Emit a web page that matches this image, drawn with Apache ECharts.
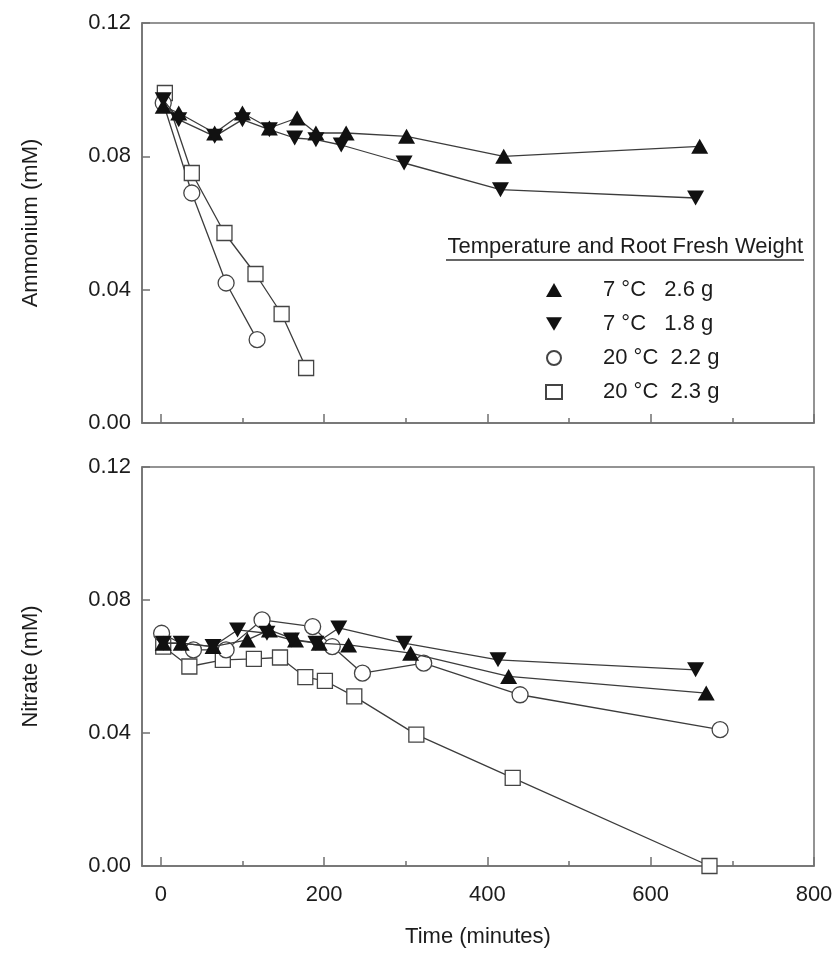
<!DOCTYPE html>
<html>
<head>
<meta charset="utf-8">
<script src="https://cdn.jsdelivr.net/npm/echarts@6/dist/echarts.min.js"></script>
<style>
  html, body { margin: 0; padding: 0; background: #fff; }
  #chart { width: 837px; height: 955px; }
</style>
</head>
<body>
<div id="chart"></div>
<script>
// Time axis (minutes)
const timeTicks = [0, 200, 400, 600, 800];
const timeMinorTicks = [100, 300, 500, 700];

// Series names
const seriesNames = ['7 °C   2.6 g', '7 °C   1.8 g', '20 °C  2.2 g', '20 °C  2.3 g'];

// Ammonium depletion (mM)
const ammonium7a_t = [3, 22, 66, 100, 133, 167, 190, 227, 301, 420, 660];
const ammonium7a_v = [0.095, 0.093, 0.087, 0.093, 0.0885, 0.0915, 0.087, 0.087, 0.086, 0.080, 0.083];
const ammonium7b_t = [3, 22, 66, 100, 133, 164, 190, 221, 298, 416, 655];
const ammonium7b_v = [0.097, 0.091, 0.086, 0.091, 0.088, 0.0855, 0.085, 0.0834, 0.078, 0.070, 0.0675];
const ammonium20a_t = [3, 38, 80, 118];
const ammonium20a_v = [0.096, 0.069, 0.042, 0.025];
const ammonium20b_t = [5, 38, 78, 116, 148, 178];
const ammonium20b_v = [0.099, 0.075, 0.057, 0.0447, 0.0327, 0.0165];

// Nitrate depletion (mM)
const nitrate7a_t = [3, 25, 64, 106, 133, 165, 194, 230, 306, 426, 668];
const nitrate7a_v = [0.067, 0.067, 0.066, 0.068, 0.071, 0.068, 0.067, 0.0665, 0.064, 0.057, 0.052];
const nitrate7b_t = [3, 25, 64, 94, 130, 160, 190, 218, 298, 413, 655];
const nitrate7b_v = [0.067, 0.067, 0.066, 0.071, 0.070, 0.068, 0.067, 0.0716, 0.067, 0.062, 0.059];
const nitrate20a_t = [1, 40, 80, 124, 186, 210, 247, 322, 440, 685];
const nitrate20a_v = [0.070, 0.065, 0.065, 0.074, 0.072, 0.066, 0.058, 0.061, 0.0515, 0.041];
const nitrate20b_t = [3, 35, 76, 114, 146, 177, 201, 237, 313, 431, 672];
const nitrate20b_v = [0.066, 0.060, 0.062, 0.0623, 0.0627, 0.0568, 0.0557, 0.051, 0.0395, 0.0265, 0.0];

const FONT = '"Liberation Sans", Arial, sans-serif';
const FS = 22;
const INK = '#1c1c1c';
const FRAME = '#707070';
const LINE = '#3c3c3c';

const X_MIN = -23, X_MAX = 800;
const GRID_L = 142, GRID_R = 23;
const grids = [
  { left: GRID_L, right: GRID_R, top: 23, height: 400 },
  { left: GRID_L, right: GRID_R, top: 467, height: 399 }
];

const downTriangle = 'path://M0,0 L20,0 L10,17 Z';

const markerStyles = [
  { symbol: 'triangle', symbolSize: [17, 15], itemStyle: { color: '#111', borderColor: '#111', borderWidth: 0 } },
  { symbol: downTriangle, symbolSize: [17, 15], itemStyle: { color: '#111', borderColor: '#111', borderWidth: 0 } },
  { symbol: 'circle', symbolSize: 16, itemStyle: { color: '#fff', borderColor: '#444', borderWidth: 1.3 } },
  { symbol: 'rect', symbolSize: 15, itemStyle: { color: '#fff', borderColor: '#444', borderWidth: 1.3 } }
];

function pair(ts, vs) { return ts.map((t, i) => [t, vs[i]]); }

function makeSeries(idx, gridIdx, ts, vs) {
  const m = markerStyles[idx];
  return {
    name: seriesNames[idx],
    type: 'line',
    xAxisIndex: gridIdx,
    yAxisIndex: gridIdx,
    data: pair(ts, vs),
    symbol: m.symbol,
    symbolSize: m.symbolSize,
    showAllSymbol: true,
    clip: false,
    lineStyle: { color: LINE, width: 1.3 },
    itemStyle: m.itemStyle,
    emphasis: { disabled: true },
    z: idx < 2 ? 3 : 2
  };
}

function xAxisMain(gridIdx, withLabels) {
  return {
    type: 'value', gridIndex: gridIdx, min: X_MIN, max: X_MAX,
    position: 'bottom',
    splitLine: { show: false },
    axisLine: { show: true, onZero: false, lineStyle: { color: FRAME, width: 1.5 } },
    axisTick: { show: true, inside: true, length: 9, customValues: timeTicks, lineStyle: { color: FRAME, width: 1.5 } },
    axisLabel: { show: withLabels, customValues: timeTicks, color: INK, fontSize: FS, fontFamily: FONT, margin: 18 },
    name: withLabels ? 'Time (minutes)' : '',
    nameLocation: 'middle', nameGap: 60,
    nameTextStyle: { color: INK, fontSize: FS, fontFamily: FONT }
  };
}

function xAxisMinor(gridIdx) {
  return {
    type: 'value', gridIndex: gridIdx, min: X_MIN, max: X_MAX,
    position: 'bottom',
    splitLine: { show: false },
    axisLine: { show: false },
    axisTick: { show: true, inside: true, length: 5, customValues: timeMinorTicks, lineStyle: { color: FRAME, width: 1.5 } },
    axisLabel: { show: false }
  };
}

function yAxisMain(gridIdx, title) {
  return {
    type: 'value', gridIndex: gridIdx, min: 0, max: 0.12, interval: 0.04,
    splitLine: { show: false },
    axisLine: { show: true, onZero: false, lineStyle: { color: FRAME, width: 1.5 } },
    axisTick: { show: true, inside: true, length: 8, lineStyle: { color: FRAME, width: 1.5 } },
    axisLabel: { color: INK, fontSize: FS, fontFamily: FONT, margin: 11, formatter: v => v.toFixed(2) },
    name: title, nameLocation: 'middle', nameGap: 100,
    nameTextStyle: { color: INK, fontSize: FS, fontFamily: FONT }
  };
}

function yAxisHidden(gridIdx) {
  return { type: 'value', gridIndex: gridIdx, min: 0, max: 0.12, show: false };
}

const legendIcons = ['triangle', downTriangle, 'circle', 'rect'];

const option = {
  animation: false,
  backgroundColor: '#fff',
  grid: [
    Object.assign({ show: true, borderColor: FRAME, borderWidth: 1.5, backgroundColor: 'transparent' }, grids[0]),
    Object.assign({ show: true, borderColor: FRAME, borderWidth: 1.5, backgroundColor: 'transparent' }, grids[1]),
    Object.assign({}, grids[0]),
    Object.assign({}, grids[1])
  ],
  xAxis: [xAxisMain(0, false), xAxisMain(1, true), xAxisMinor(2), xAxisMinor(3)],
  yAxis: [yAxisMain(0, 'Ammonium (mM)'), yAxisMain(1, 'Nitrate (mM)'), yAxisHidden(2), yAxisHidden(3)],
  legend: {
    orient: 'vertical',
    left: 540, top: 274,
    itemWidth: 16, itemHeight: 14, itemGap: 12,
    selectedMode: false,
    data: seriesNames.map((n, i) => ({ name: n, icon: legendIcons[i] })),
    formatter: n => '{gap|}' + n,
    textStyle: {
      color: INK, fontSize: FS, fontFamily: FONT,
      rich: { gap: { width: 36 } }
    }
  },
  graphic: [
    {
      type: 'text', right: 34, top: 236,
      style: { text: 'Temperature and Root Fresh Weight', fill: INK, font: FS + 'px ' + FONT }
    },
    {
      type: 'line', shape: { x1: 446, y1: 260, x2: 804, y2: 260 },
      style: { stroke: '#333', lineWidth: 1.4 }
    }
  ],
  series: [
    makeSeries(3, 0, ammonium20b_t, ammonium20b_v),
    makeSeries(2, 0, ammonium20a_t, ammonium20a_v),
    makeSeries(0, 0, ammonium7a_t, ammonium7a_v),
    makeSeries(1, 0, ammonium7b_t, ammonium7b_v),
    makeSeries(3, 1, nitrate20b_t, nitrate20b_v),
    makeSeries(2, 1, nitrate20a_t, nitrate20a_v),
    makeSeries(0, 1, nitrate7a_t, nitrate7a_v),
    makeSeries(1, 1, nitrate7b_t, nitrate7b_v)
  ]
};

const chart = echarts.init(document.getElementById('chart'), null, { renderer: 'canvas' });
chart.setOption(option);
</script>
</body>
</html>
